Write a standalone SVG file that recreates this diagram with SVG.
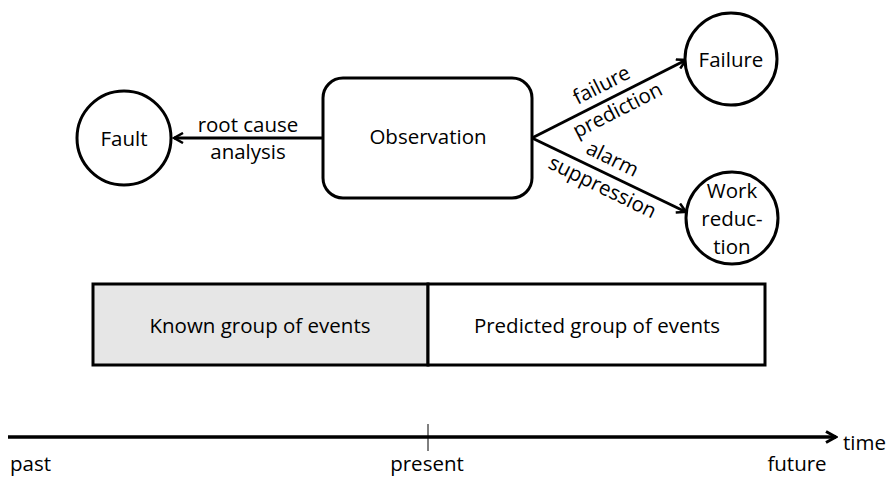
<svg xmlns="http://www.w3.org/2000/svg" width="892" height="478" viewBox="0 0 892 478">
  <style>
    text { font-family: "Open Sans", "Liberation Sans", sans-serif; font-size: 20.5px; fill: #000; }
    .c { text-anchor: middle; dominant-baseline: central; }
    .node { fill: #fff; stroke: #000; stroke-width: 3; }
    .edge { fill: none; stroke: #000; stroke-width: 3; }
  </style>
  <defs>
    <marker id="arrow" viewBox="0 0 12 12" refX="10" refY="6" markerWidth="12" markerHeight="12" markerUnits="userSpaceOnUse" orient="auto">
      <path d="M1,1 L10,6 L1,11" fill="none" stroke="#000" stroke-width="2.5" stroke-linejoin="miter"/>
    </marker>
    <marker id="arrowBig" viewBox="0 0 14 14" refX="12" refY="7" markerWidth="14" markerHeight="14" markerUnits="userSpaceOnUse" orient="auto">
      <path d="M2,1.5 L12,7 L2,12.5" fill="none" stroke="#000" stroke-width="3"/>
    </marker>
  </defs>

  <!-- connectors -->
  <g id="connectors">
    <line class="edge" x1="323" y1="138" x2="174" y2="138" marker-end="url(#arrow)"/>
    <line class="edge" x1="532" y1="138" x2="686" y2="60" marker-end="url(#arrow)"/>
    <line class="edge" x1="532" y1="138" x2="686" y2="212" marker-end="url(#arrow)"/>
    <text class="c" x="248" y="124">root cause</text>
    <text class="c" x="248" y="151">analysis</text>
    <text class="c" transform="translate(601,84) rotate(-27)">failure</text>
    <text class="c" transform="translate(617,109) rotate(-27)">prediction</text>
    <text class="c" transform="translate(613,158) rotate(26)">alarm</text>
    <text class="c" transform="translate(603,186) rotate(26)">suppression</text>
  </g>

  <!-- nodes -->
  <g id="fault">
    <circle class="node" cx="124" cy="138" r="47"/>
    <text class="c" x="124" y="138">Fault</text>
  </g>
  <g id="observation">
    <rect class="node" x="323" y="78" width="209" height="120" rx="20"/>
    <text class="c" x="428" y="136">Observation</text>
  </g>
  <g id="failure">
    <circle class="node" cx="731" cy="59" r="46"/>
    <text class="c" x="731" y="59">Failure</text>
  </g>
  <g id="work-reduction">
    <circle class="node" cx="732" cy="218" r="46"/>
    <text class="c" x="732" y="190">Work</text>
    <text class="c" x="732" y="218">reduc-</text>
    <text class="c" x="732" y="246">tion</text>
  </g>

  <!-- event groups -->
  <g id="known-group">
    <rect x="93" y="284" width="335" height="81" fill="#e6e6e6" stroke="#000" stroke-width="3"/>
    <text class="c" x="260" y="325">Known group of events</text>
  </g>
  <g id="predicted-group">
    <rect x="428" y="284" width="337" height="81" fill="#fff" stroke="#000" stroke-width="3"/>
    <text class="c" x="597" y="325">Predicted group of events</text>
  </g>

  <!-- time axis -->
  <g id="time-axis">
    <line x1="8" y1="437" x2="836" y2="437" stroke="#000" stroke-width="3.5" marker-end="url(#arrowBig)"/>
    <line x1="428" y1="424" x2="428" y2="451" stroke="#000" stroke-width="1"/>
    <text x="843" y="442" dominant-baseline="central">time</text>
    <text x="10" y="463" dominant-baseline="central">past</text>
    <text class="c" x="427" y="463">present</text>
    <text class="c" x="797" y="463">future</text>
  </g>
</svg>
